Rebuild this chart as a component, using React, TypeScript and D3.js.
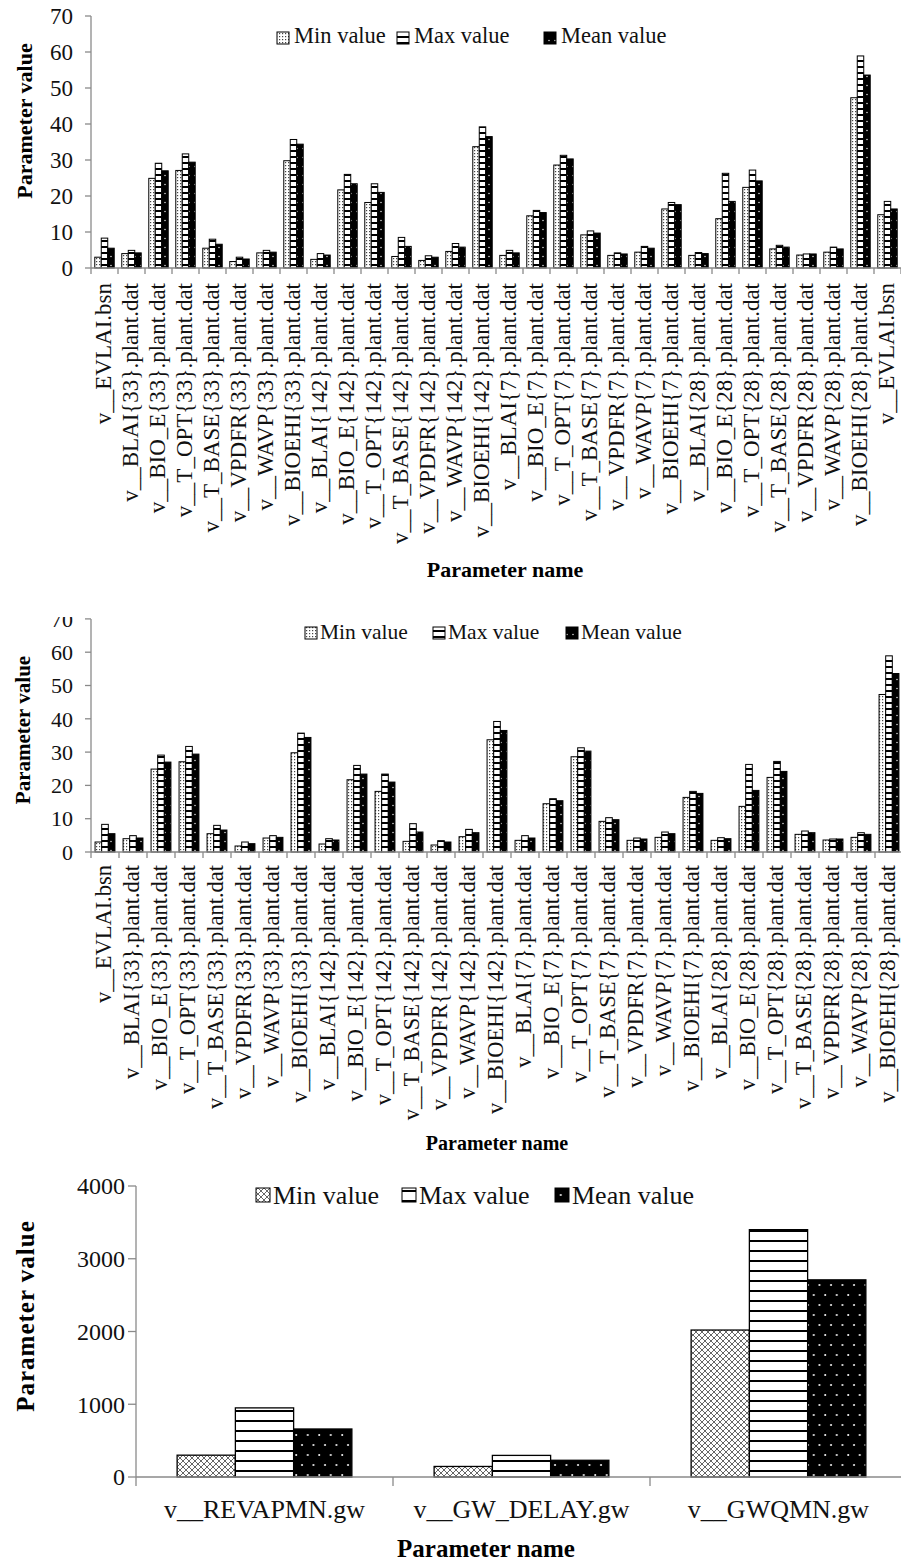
import { useEffect, useRef } from 'react'
import * as d3 from 'd3'

const W = 901
const H = 1563
const FONT = '"Liberation Serif", "Times New Roman", "DejaVu Serif", serif'
const AXIS = '#8a8a8a'

const plantNames = [
  'v__EVLAI.bsn',
  'v__BLAI{33}.plant.dat', 'v__BIO_E{33}.plant.dat', 'v__T_OPT{33}.plant.dat', 'v__T_BASE{33}.plant.dat',
  'v__VPDFR{33}.plant.dat', 'v__WAVP{33}.plant.dat', 'v__BIOEHI{33}.plant.dat',
  'v__BLAI{142}.plant.dat', 'v__BIO_E{142}.plant.dat', 'v__T_OPT{142}.plant.dat', 'v__T_BASE{142}.plant.dat',
  'v__VPDFR{142}.plant.dat', 'v__WAVP{142}.plant.dat', 'v__BIOEHI{142}.plant.dat',
  'v__BLAI{7}.plant.dat', 'v__BIO_E{7}.plant.dat', 'v__T_OPT{7}.plant.dat', 'v__T_BASE{7}.plant.dat',
  'v__VPDFR{7}.plant.dat', 'v__WAVP{7}.plant.dat', 'v__BIOEHI{7}.plant.dat',
  'v__BLAI{28}.plant.dat', 'v__BIO_E{28}.plant.dat', 'v__T_OPT{28}.plant.dat', 'v__T_BASE{28}.plant.dat',
  'v__VPDFR{28}.plant.dat', 'v__WAVP{28}.plant.dat', 'v__BIOEHI{28}.plant.dat',
  'v__EVLAI.bsn',
]
const plantMin = [3.0, 4.0, 24.9, 27.1, 5.5, 1.8, 4.2, 29.8, 2.4, 21.7, 18.2, 3.2, 2.1, 4.6, 33.7,
  3.5, 14.5, 28.6, 9.2, 3.5, 4.4, 16.4, 3.5, 13.7, 22.4, 5.3, 3.6, 4.4, 47.3, 14.8]
const plantMax = [8.3, 4.9, 29.1, 31.7, 8.0, 3.0, 4.9, 35.7, 4.0, 26.0, 23.4, 8.5, 3.4, 6.8, 39.2,
  4.9, 16.0, 31.3, 10.3, 4.2, 6.0, 18.2, 4.3, 26.3, 27.2, 6.3, 3.9, 5.8, 58.9, 18.5]
const plantMean = [5.5, 4.2, 27.0, 29.4, 6.6, 2.5, 4.4, 34.4, 3.6, 23.4, 21.0, 6.0, 3.0, 5.8, 36.5,
  4.2, 15.4, 30.3, 9.7, 3.9, 5.5, 17.6, 4.0, 18.5, 24.2, 5.8, 3.9, 5.3, 53.6, 16.4]
const plantTicks = [0, 10, 20, 30, 40, 50, 60, 70]

const gwNames = ['v__REVAPMN.gw', 'v__GW_DELAY.gw', 'v__GWQMN.gw']
const gwMin = [300, 145, 2020]
const gwMax = [950, 297, 3400]
const gwMean = [660, 230, 2710]
const gwTicks = [0, 1000, 2000, 3000, 4000]

const seriesNames = ['Min value', 'Max value', 'Mean value']

interface PanelCfg {
  id: string
  names: string[]
  values: number[][]
  fills: string[]
  x0: number
  step: number
  padIn: number
  yTop: number
  yZero: number
  yMax: number
  ticks: number[]
  tickX: number
  tickFont: number
  yTickLen: number
  xTickLen: number
  barStroke: number
  rotate: boolean
  labelY: number
  labelFont: number
  xTitle: [number, number, number]
  yTitle: [number, number, number]
  yTitleSpacing: number
  legend: { xs: number[]; top: number; box: number; base: number; font: number; gap: number }
  clipTop?: number
}

function drawPanel(svg: d3.Selection<SVGSVGElement, unknown, null, undefined>, c: PanelCfg) {
  const g = svg.append('g')
  if (c.clipTop != null) {
    svg.select('defs').append('clipPath').attr('id', `clip-${c.id}`)
      .append('rect').attr('x', 0).attr('y', c.clipTop).attr('width', W).attr('height', H)
    g.attr('clip-path', `url(#clip-${c.id})`)
  }
  const n = c.names.length
  const x = d3.scaleBand<number>()
    .domain(d3.range(n))
    .range([c.x0, c.x0 + n * c.step])
    .paddingInner(c.padIn).paddingOuter(c.padIn / 2)
  const xs = d3.scaleBand<number>().domain([0, 1, 2]).range([0, x.bandwidth()])
  const y = d3.scaleLinear().domain([0, c.yMax]).range([c.yZero, c.yTop])

  // bars
  c.values.forEach((vals, s) => {
    g.append('g').selectAll('rect')
      .data(vals)
      .join('rect')
      .attr('x', (_, i) => (x(i) ?? 0) + (xs(s) ?? 0))
      .attr('y', d => y(d))
      .attr('width', xs.bandwidth())
      .attr('height', d => c.yZero - y(d))
      .attr('fill', c.fills[s])
      .attr('stroke', '#000')
      .attr('stroke-width', c.barStroke)
  })

  // y axis
  g.append('line')
    .attr('x1', c.x0).attr('x2', c.x0).attr('y1', c.yTop).attr('y2', c.yZero)
    .attr('stroke', AXIS).attr('stroke-width', 1.3)
  c.ticks.forEach(t => {
    g.append('line')
      .attr('x1', c.x0 - c.yTickLen).attr('x2', c.x0).attr('y1', y(t)).attr('y2', y(t))
      .attr('stroke', AXIS).attr('stroke-width', 1.3)
    g.append('text')
      .attr('x', c.tickX).attr('y', y(t)).attr('dy', '0.35em')
      .attr('text-anchor', 'end').attr('font-size', c.tickFont).attr('fill', '#111')
      .text(t)
  })

  // x axis
  const xEnd = c.x0 + n * x.step()
  g.append('line')
    .attr('x1', c.x0).attr('x2', xEnd).attr('y1', c.yZero).attr('y2', c.yZero)
    .attr('stroke', AXIS).attr('stroke-width', 1.3)
  d3.range(n + 1).forEach(k => {
    const bx = c.x0 + k * x.step()
    g.append('line')
      .attr('x1', bx).attr('x2', bx).attr('y1', c.yZero).attr('y2', c.yZero + c.xTickLen)
      .attr('stroke', AXIS).attr('stroke-width', 1.3)
  })

  // category labels
  c.names.forEach((name, i) => {
    const cx = (x(i) ?? 0) + x.bandwidth() / 2
    if (c.rotate) {
      g.append('text')
        .attr('transform', `translate(${cx + 6},${c.labelY}) rotate(-90)`)
        .attr('text-anchor', 'end').attr('font-size', c.labelFont).attr('fill', '#111')
        .text(name)
    } else {
      g.append('text')
        .attr('x', cx).attr('y', c.labelY)
        .attr('text-anchor', 'middle').attr('font-size', c.labelFont).attr('fill', '#111')
        .text(name)
    }
  })

  // titles
  g.append('text')
    .attr('x', c.xTitle[0]).attr('y', c.xTitle[1])
    .attr('text-anchor', 'middle').attr('font-size', c.xTitle[2]).attr('font-weight', 'bold')
    .text('Parameter name')
  g.append('text')
    .attr('transform', `translate(${c.yTitle[0]},${c.yTitle[1]}) rotate(-90)`)
    .attr('text-anchor', 'middle').attr('font-size', c.yTitle[2]).attr('font-weight', 'bold')
    .attr('letter-spacing', c.yTitleSpacing)
    .text('Parameter value')

  // legend
  const L = c.legend
  seriesNames.forEach((name, s) => {
    g.append('rect')
      .attr('x', L.xs[s]).attr('y', L.top).attr('width', L.box).attr('height', L.box)
      .attr('fill', c.fills[s]).attr('stroke', '#000').attr('stroke-width', 1)
    g.append('text')
      .attr('x', L.xs[s] + L.box + L.gap).attr('y', L.base)
      .attr('font-size', L.font).attr('fill', '#111')
      .text(name)
  })
}

export default function App() {
  const ref = useRef<SVGSVGElement>(null)

  useEffect(() => {
    if (!ref.current) return
    const svg = d3.select(ref.current)
    svg.selectAll('*').remove()
    svg.style('font-family', FONT)

    const defs = svg.append('defs')
    // narrow-bar patterns (panels 1 and 2)
    const pMin = defs.append('pattern').attr('id', 'pMin').attr('patternUnits', 'userSpaceOnUse')
      .attr('width', 3).attr('height', 3)
    pMin.append('rect').attr('width', 3).attr('height', 3).attr('fill', '#fff')
    pMin.append('rect').attr('width', 1.2).attr('height', 1.2).attr('fill', '#444')
    const pMax = defs.append('pattern').attr('id', 'pMax').attr('patternUnits', 'userSpaceOnUse')
      .attr('width', 6).attr('height', 6)
    pMax.append('rect').attr('width', 6).attr('height', 6).attr('fill', '#fff')
    pMax.append('rect').attr('width', 6).attr('height', 2).attr('fill', '#000')
    const pMean = defs.append('pattern').attr('id', 'pMean').attr('patternUnits', 'userSpaceOnUse')
      .attr('width', 6).attr('height', 9)
    pMean.append('rect').attr('width', 6).attr('height', 9).attr('fill', '#000')
    pMean.append('circle').attr('cx', 3).attr('cy', 4.5).attr('r', 0.7).attr('fill', '#fff')

    // wide-bar patterns (panel 3)
    const gMin = defs.append('pattern').attr('id', 'gMin').attr('patternUnits', 'userSpaceOnUse')
      .attr('width', 6).attr('height', 6)
    gMin.append('rect').attr('width', 6).attr('height', 6).attr('fill', '#fff')
    gMin.append('path').attr('d', 'M0,0L6,6M6,0L0,6').attr('stroke', '#555').attr('stroke-width', 0.9)
    const gMax = defs.append('pattern').attr('id', 'gMax').attr('patternUnits', 'userSpaceOnUse')
      .attr('width', 10).attr('height', 10)
    gMax.append('rect').attr('width', 10).attr('height', 10).attr('fill', '#fff')
    gMax.append('rect').attr('width', 10).attr('height', 2).attr('fill', '#000')
    const gMean = defs.append('pattern').attr('id', 'gMean').attr('patternUnits', 'userSpaceOnUse')
      .attr('width', 11.5).attr('height', 20)
    gMean.append('rect').attr('width', 11.5).attr('height', 20).attr('fill', '#000')
    gMean.append('circle').attr('cx', 3).attr('cy', 5).attr('r', 1).attr('fill', '#fff')
    gMean.append('circle').attr('cx', 8.75).attr('cy', 15).attr('r', 1).attr('fill', '#fff')

    const plantFills = ['url(#pMin)', 'url(#pMax)', 'url(#pMean)']

    drawPanel(svg, {
      id: 'p1', names: plantNames, values: [plantMin, plantMax, plantMean], fills: plantFills,
      x0: 91, step: 27, padIn: 0.28,
      yTop: 16, yZero: 268, yMax: 70, ticks: plantTicks,
      tickX: 73, tickFont: 23, yTickLen: 6, xTickLen: 6, barStroke: 1,
      rotate: true, labelY: 283, labelFont: 23,
      xTitle: [505, 577, 22], yTitle: [32, 121, 22], yTitleSpacing: 0,
      legend: { xs: [277, 397, 544], top: 32, box: 12, base: 43, font: 22.5, gap: 5 },
    })

    drawPanel(svg, {
      id: 'p2', names: plantNames.slice(0, 29),
      values: [plantMin.slice(0, 29), plantMax.slice(0, 29), plantMean.slice(0, 29)], fills: plantFills,
      x0: 91, step: 28, padIn: 0.29,
      yTop: 618.9, yZero: 852, yMax: 70, ticks: plantTicks,
      tickX: 73, tickFont: 22, yTickLen: 6, xTickLen: 6, barStroke: 1,
      rotate: true, labelY: 865, labelFont: 22.5,
      xTitle: [497, 1150, 20], yTitle: [30, 730, 21], yTitleSpacing: 0,
      legend: { xs: [305, 433, 566], top: 627, box: 12, base: 639, font: 21.5, gap: 3 },
      clipTop: 617,
    })

    drawPanel(svg, {
      id: 'p3', names: gwNames, values: [gwMin, gwMax, gwMean],
      fills: ['url(#gMin)', 'url(#gMax)', 'url(#gMean)'],
      x0: 136, step: 257, padIn: 0.32,
      yTop: 1186, yZero: 1477, yMax: 4000, ticks: gwTicks,
      tickX: 125, tickFont: 24, yTickLen: 8, xTickLen: 9, barStroke: 1.3,
      rotate: false, labelY: 1518, labelFont: 26,
      xTitle: [486, 1557, 25], yTitle: [34, 1316, 25], yTitleSpacing: 1,
      legend: { xs: [256, 402, 555], top: 1188, box: 14, base: 1204, font: 26, gap: 3 },
    })
  }, [])

  return (
    <svg
      ref={ref}
      width={W}
      height={H}
      style={{ position: 'absolute', left: 0, top: 0, display: 'block', background: '#fff' }}
    />
  )
}
